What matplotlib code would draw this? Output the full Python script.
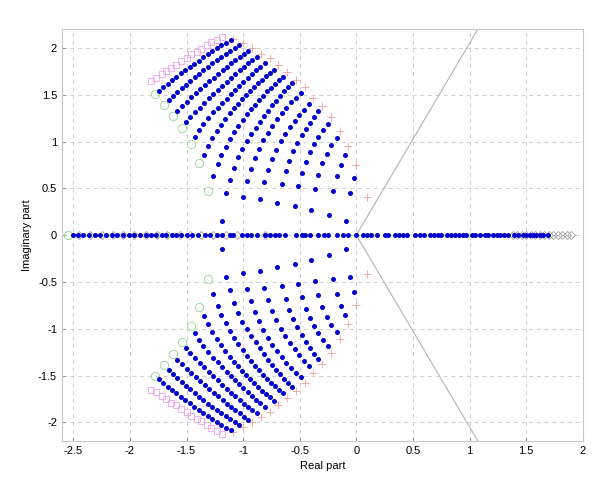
import numpy as np
import matplotlib
matplotlib.use("Agg")
import matplotlib.pyplot as plt

plt.rcParams['font.family'] = ['Liberation Sans', 'DejaVu Sans']

# blue poles in the upper half plane, read row by row (lower half is the conjugate)
blue_x = [
    -1.742, -1.704, -1.666, -1.627, -1.589, -1.550, -1.511, -1.472, -1.432, -1.393, -1.353, -1.313, -1.273, -1.232, -1.192, -1.151, -1.110,
    -1.654, -1.617, -1.580, -1.542, -1.505, -1.467, -1.429, -1.390, -1.352, -1.313, -1.274, -1.234, -1.195, -1.155, -1.115, -1.075, -1.035,
    -1.580, -1.539, -1.498, -1.458, -1.418, -1.378, -1.338, -1.299, -1.260, -1.221, -1.182, -1.144, -1.106, -1.068, -1.030, -0.993, -0.956,
    -1.506, -1.465, -1.424, -1.384, -1.344, -1.304, -1.264, -1.224, -1.185, -1.146, -1.108, -1.069, -1.031, -0.993, -0.955, -0.918, -0.881,
    -1.427, -1.389, -1.353, -1.309, -1.265, -1.221, -1.184, -1.146, -1.109, -1.071, -1.034, -0.997, -0.959, -0.922, -0.884, -0.847, -0.810,
    -1.350, -1.309, -1.274, -1.235, -1.197, -1.162, -1.117, -1.079, -1.044, -1.009, -0.974, -0.939, -0.904, -0.869, -0.834, -0.799, -0.764, -0.729,
    -1.265, -1.226, -1.197, -1.153, -1.117, -1.082, -1.044, -1.005, -0.970, -0.932, -0.896, -0.861, -0.825, -0.790, -0.754, -0.718, -0.683, -0.647,
    -1.153, -1.117, -1.082, -1.044, -1.006, -0.968, -0.928, -0.889, -0.852, -0.816, -0.780, -0.744, -0.708, -0.672, -0.637, -0.601, -0.566,
    -1.002, -0.970, -0.934, -0.897, -0.859, -0.821, -0.782, -0.742, -0.702, -0.661, -0.619, -0.577, -0.534, -0.490,
    -0.852, -0.817, -0.782, -0.746, -0.708, -0.669, -0.629, -0.588, -0.546, -0.503, -0.459, -0.415,
    -0.702, -0.658, -0.625, -0.591, -0.556, -0.520, -0.484, -0.447, -0.409, -0.372, -0.335,
    -0.543, -0.517, -0.484, -0.449, -0.412, -0.374, -0.335, -0.295, -0.253,
    -0.402, -0.367, -0.337, -0.302, -0.262, -0.220, -0.175,
    -0.243, -0.208, -0.173, -0.138, -0.102,
    -0.093, -0.057, -0.022,
    -1.190]
blue_y = [
    1.542, 1.580, 1.618, 1.654, 1.691, 1.727, 1.762, 1.797, 1.831, 1.865, 1.898, 1.931, 1.964, 1.995, 2.027, 2.057, 2.087,
    1.442, 1.485, 1.527, 1.569, 1.609, 1.649, 1.688, 1.726, 1.763, 1.799, 1.835, 1.869, 1.903, 1.936, 1.968, 2.000, 2.030,
    1.330, 1.378, 1.425, 1.471, 1.516, 1.559, 1.602, 1.644, 1.684, 1.724, 1.762, 1.799, 1.836, 1.871, 1.905, 1.938, 1.970,
    1.204, 1.258, 1.311, 1.362, 1.412, 1.460, 1.508, 1.553, 1.598, 1.641, 1.683, 1.723, 1.762, 1.800, 1.836, 1.871, 1.905,
    1.050, 1.122, 1.186, 1.253, 1.311, 1.360, 1.410, 1.458, 1.504, 1.549, 1.593, 1.636, 1.678, 1.719, 1.759, 1.798, 1.836,
    0.860, 0.954, 1.033, 1.111, 1.175, 1.239, 1.300, 1.353, 1.403, 1.451, 1.497, 1.541, 1.583, 1.623, 1.662, 1.699, 1.734, 1.768,
    0.630, 0.755, 0.855, 0.943, 1.022, 1.097, 1.165, 1.229, 1.290, 1.343, 1.395, 1.444, 1.491, 1.535, 1.577, 1.617, 1.655, 1.692,
    0.449, 0.588, 0.720, 0.830, 0.925, 1.005, 1.078, 1.146, 1.211, 1.273, 1.331, 1.386, 1.438, 1.488, 1.536, 1.581, 1.623,
    0.406, 0.577, 0.707, 0.822, 0.922, 1.012, 1.094, 1.169, 1.238, 1.302, 1.362, 1.418, 1.470, 1.520,
    0.385, 0.566, 0.696, 0.811, 0.911, 1.001, 1.081, 1.154, 1.221, 1.283, 1.341, 1.396,
    0.342, 0.545, 0.680, 0.795, 0.895, 0.985, 1.065, 1.137, 1.203, 1.265, 1.323,
    0.310, 0.524, 0.664, 0.784, 0.884, 0.972, 1.050, 1.120, 1.184,
    0.267, 0.491, 0.641, 0.766, 0.871, 0.961, 1.040,
    0.214, 0.470, 0.628, 0.752, 0.855,
    0.150, 0.449, 0.606,
    0.153]

# blue poles on the real axis
real_x = [-2.50, -2.46, -2.41, -2.36, -2.31, -2.26, -2.21, -2.16, -2.11, -2.06, -2.01, -1.96, -1.91, -1.86,
          -1.81, -1.77, -1.72, -1.68, -1.63, -1.59, -1.55, -1.50, -1.45, -1.40, -1.34, -1.29, -1.23, -1.19,
          -1.12, -1.09, -1.01, -0.97, -0.93, -0.88, -0.81, -0.76, -0.72, -0.68, -0.63, -0.53, -0.48, -0.45,
          -0.41, -0.34, -0.29, -0.25, -0.17, -0.12, -0.07, 0.00,
          0.06, 0.09, 0.13, 0.18, 0.25, 0.28, 0.34, 0.38, 0.41, 0.45, 0.52, 0.56, 0.60, 0.65, 0.69, 0.72,
          0.75, 0.80, 0.84, 0.87, 0.91, 0.94, 0.97, 1.02, 1.05, 1.09, 1.14, 1.16, 1.21, 1.24, 1.27, 1.30,
          1.34, 1.39, 1.43, 1.47, 1.50, 1.53, 1.56, 1.59, 1.62, 1.65, 1.69]

# grey diamonds on the real axis
dia_x = [-2.45, -2.35, -2.25, -2.15, -2.06, -1.96, -1.86, -1.76, -1.67, -1.56, -1.47, -1.37, -1.27, -1.15,
         -1.05, -0.81, 1.38, 1.42, 1.46, 1.50, 1.54, 1.58, 1.62, 1.66, 1.70, 1.74, 1.78, 1.82, 1.86, 1.90]

# green circles (upper half) plus the one on the real axis
circ_x = [-1.78, -1.70, -1.62, -1.54, -1.46, -1.39, -1.31]
circ_y = [1.51, 1.39, 1.27, 1.14, 0.97, 0.77, 0.47]
circ_real = [-2.55]

# magenta squares (upper half)
sq_x = [-1.81, -1.77, -1.72, -1.68, -1.64, -1.59, -1.55, -1.50, -1.46, -1.41, -1.37, -1.32, -1.28, -1.23, -1.19]
sq_y = [1.65, 1.68, 1.72, 1.75, 1.79, 1.82, 1.86, 1.89, 1.93, 1.96, 1.99, 2.03, 2.06, 2.09, 2.12]

# red crosses (upper half)
cr_x = [-1.09, -1.00, -0.92, -0.84, -0.76, -0.69, -0.61, -0.53, -0.45, -0.38, -0.30, -0.22, -0.14, -0.07, 0.00, 0.09]
cr_y = [2.10, 2.05, 2.00, 1.94, 1.89, 1.82, 1.74, 1.66, 1.58, 1.47, 1.38, 1.26, 1.11, 0.95, 0.75, 0.41]

# sector line through the origin
line_x = [1.2, 0.0, 1.2]
line_y = [2.46, 0.0, -2.46]

fig = plt.figure(figsize=(6.0, 4.95), dpi=100)
ax = fig.add_axes([0.1033, 0.109, 0.868, 0.832])

ax.plot(line_x, line_y, '-', color='#b4b4b4', lw=0.8)

dx = np.array(dia_x)
ax.plot(dx, 0 * dx, 'D', mfc='none', mec='#a0a0a0', ms=4, mew=0.6)

sx, sy = np.array(sq_x), np.array(sq_y)
ax.plot(np.r_[sx, sx], np.r_[sy, -sy], 's', mfc='none', mec='#f0a0f0', ms=5, mew=0.6)
cx, cy = np.array(circ_x), np.array(circ_y)
ax.plot(np.r_[cx, cx, circ_real], np.r_[cy, -cy, 0], 'o', mfc='none', mec='#90d890', ms=6, mew=0.6)
rx, ry = np.array(cr_x), np.array(cr_y)
ax.plot(np.r_[rx, rx], np.r_[ry, -ry], '+', color='#f0a0a0', ms=6, mew=0.6)

bx, by = np.array(blue_x), np.array(blue_y)
ax.plot(np.r_[bx, bx], np.r_[by, -by], 'o', color='#0000cc', ms=3.6, mew=0)
ax.plot(real_x, np.zeros(len(real_x)), 'o', color='#0000cc', ms=3.6, mew=0)

ax.set_xlim(-2.6, 2.0)
ax.set_ylim(-2.2, 2.2)
ax.set_xticks(np.arange(-2.5, 2.01, 0.5))
ax.set_yticks(np.arange(-2, 2.01, 0.5))
ax.set_xticklabels(['-2.5', '-2', '-1.5', '-1', '-0.5', '0', '0.5', '1', '1.5', '2'])
ax.set_yticklabels(['-2', '-1.5', '-1', '-0.5', '0', '0.5', '1', '1.5', '2'])
ax.grid(True, ls=(0, (4, 4)), color='#d0d0d0', lw=0.7)
ax.tick_params(direction='in', labelsize=8, length=3, color='#999999')
for s in ax.spines.values():
    s.set_color('#c8c8c8')
ax.set_xlabel('Real part', fontsize=8)
ax.set_ylabel('Imaginary part', fontsize=8)

fig.savefig('out.png', dpi=100)
